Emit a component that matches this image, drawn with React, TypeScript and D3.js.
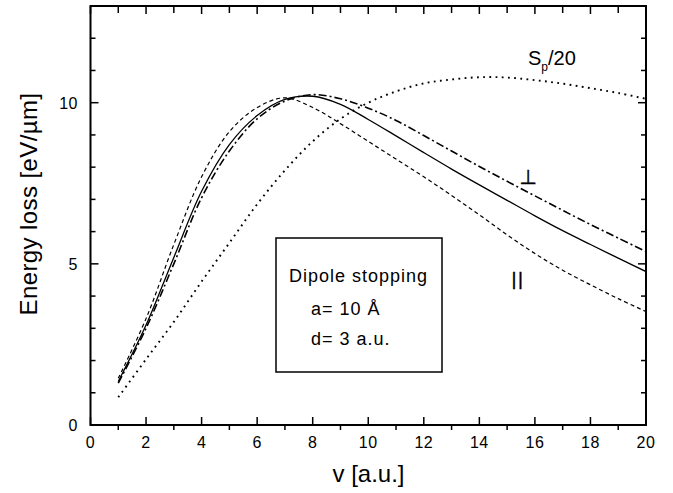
import React from "react";
import * as d3 from "d3";

// Projectile velocity samples (a.u.)
const velocity = [1, 2, 3, 4, 5, 6, 7, 8, 9, 10, 11, 12, 13, 14, 15, 16, 17, 18, 19, 20];

// Energy loss (eV/µm) for each orientation of the dipole
const averaged = [1.35, 3.1, 5.2, 7.25, 8.7, 9.6, 10.1, 10.2, 9.95, 9.48, 8.97, 8.45, 7.94, 7.45, 6.97, 6.49, 6.03, 5.6, 5.18, 4.76];
const parallel = [1.45, 3.3, 5.6, 7.7, 9.1, 9.85, 10.15, 9.85, 9.35, 8.8, 8.25, 7.7, 7.12, 6.52, 5.9, 5.32, 4.8, 4.35, 3.92, 3.52];
const perpendicular = [1.3, 3.0, 5.0, 7.05, 8.5, 9.5, 10.05, 10.25, 10.12, 9.83, 9.45, 8.98, 8.5, 8.02, 7.56, 7.11, 6.66, 6.22, 5.8, 5.38];
const protonScaled = [0.86, 2.04, 3.2, 4.45, 5.65, 6.85, 7.9, 8.8, 9.5, 10.0, 10.35, 10.6, 10.72, 10.79, 10.78, 10.7, 10.59, 10.45, 10.3, 10.12];

const xTicks = [0, 2, 4, 6, 8, 10, 12, 14, 16, 18, 20];
const yTicks = [0, 5, 10];

const W = 673;
const H = 493;
const left = 90.5;
const right = 646;
const top = 6;
const bottom = 425;

const FONT = "'Liberation Sans', Arial, Helvetica, sans-serif";

export default function App() {
  const x = d3.scaleLinear().domain([0, 20]).range([left, right]);
  const y = d3.scaleLinear().domain([0, 13]).range([bottom, top]);

  const line = d3
    .line<[number, number]>()
    .x((d) => x(d[0]))
    .y((d) => y(d[1]))
    .curve(d3.curveCatmullRom.alpha(0.5));

  const series = [
    { values: protonScaled, dash: "1.8,4.4", width: 1.9 },
    { values: parallel, dash: "4,3", width: 1.2 },
    { values: averaged, dash: null, width: 1.3 },
    { values: perpendicular, dash: "8,3,2,3", width: 1.6 },
  ];

  const xMinor = d3.range(1, 20, 2);
  const yMinor = d3.range(0, 14).filter((v) => v % 5 !== 0);

  return (
    <svg
      width={W}
      height={H}
      style={{ position: "absolute", left: 0, top: 0, background: "#fff" }}
      fontFamily={FONT}
    >
      <defs>
        <clipPath id="plot-clip">
          <rect x={left} y={top} width={right - left} height={bottom - top} />
        </clipPath>
      </defs>

      <g clipPath="url(#plot-clip)" fill="none" stroke="#000">
        {series.map((s, i) => (
          <path
            key={i}
            d={line(velocity.map((v, k) => [v, s.values[k]] as [number, number])) || ""}
            strokeWidth={s.width}
            strokeDasharray={s.dash || undefined}
          />
        ))}
      </g>

      {/* frame */}
      <rect
        x={left}
        y={top}
        width={right - left}
        height={bottom - top}
        fill="none"
        stroke="#000"
        strokeWidth={2}
      />

      {/* ticks: bottom minor ticks point outward, all others inward */}
      <g stroke="#000" strokeWidth={1.5}>
        {xTicks.map((t) => (
          <g key={"xm" + t}>
            <line x1={x(t)} x2={x(t)} y1={bottom} y2={bottom - 8} />
            <line x1={x(t)} x2={x(t)} y1={top} y2={top + 8} />
          </g>
        ))}
        {xMinor.map((t) => (
          <g key={"xn" + t}>
            <line x1={x(t)} x2={x(t)} y1={bottom} y2={bottom + 5} />
            <line x1={x(t)} x2={x(t)} y1={top} y2={top + 7} />
          </g>
        ))}
        {yTicks.map((t) => (
          <g key={"ym" + t}>
            <line x1={left} x2={left + 8} y1={y(t)} y2={y(t)} />
            <line x1={right} x2={right - 8} y1={y(t)} y2={y(t)} />
          </g>
        ))}
        {yMinor.map((t) => (
          <g key={"yn" + t}>
            <line x1={left} x2={left + 5} y1={y(t)} y2={y(t)} />
            <line x1={right} x2={right - 5} y1={y(t)} y2={y(t)} />
          </g>
        ))}
      </g>

      {/* tick labels */}
      <g fontSize={16} fill="#000">
        {xTicks.map((t) => (
          <text key={"xl" + t} x={x(t)} y={448} textAnchor="middle" letterSpacing={0.5}>
            {t}
          </text>
        ))}
        {yTicks.map((t) => (
          <text key={"yl" + t} x={78} y={y(t) + 6} textAnchor="end" letterSpacing={0.5}>
            {t}
          </text>
        ))}
      </g>

      {/* axis titles */}
      <text x={368.5} y={482} fontSize={24} textAnchor="middle" fill="#000">
        v [a.u.]
      </text>
      <text
        transform={`translate(37,204) rotate(-90)`}
        fontSize={24}
        textAnchor="middle"
        letterSpacing={0.4}
        fill="#000"
      >
        Energy loss [eV/µm]
      </text>

      {/* curve labels */}
      <text x={528} y={65} fontSize={20} fill="#000">
        S<tspan fontSize={12} dy={6}>p</tspan>
        <tspan dy={-6}>/20</tspan>
      </text>
      <text
        x={528}
        y={184}
        fontSize={20}
        textAnchor="middle"
        fontFamily="'DejaVu Sans', sans-serif"
        fill="#000"
        stroke="#000"
        strokeWidth={0.4}
      >
        ⊥
      </text>
      <text
        x={518}
        y={285}
        fontSize={19}
        textAnchor="middle"
        letterSpacing={1.5}
        fill="#000"
        stroke="#000"
        strokeWidth={0.4}
      >
        ||
      </text>

      {/* annotation box */}
      <rect x={276} y={238} width={166} height={134} fill="#fff" stroke="#000" strokeWidth={1.5} />
      <g fontSize={18} letterSpacing={1} fill="#000">
        <text x={289} y={282}>Dipole stopping</text>
        <text x={311} y={315}>a= 10 Å</text>
        <text x={311} y={345}>d= 3 a.u.</text>
      </g>
    </svg>
  );
}
